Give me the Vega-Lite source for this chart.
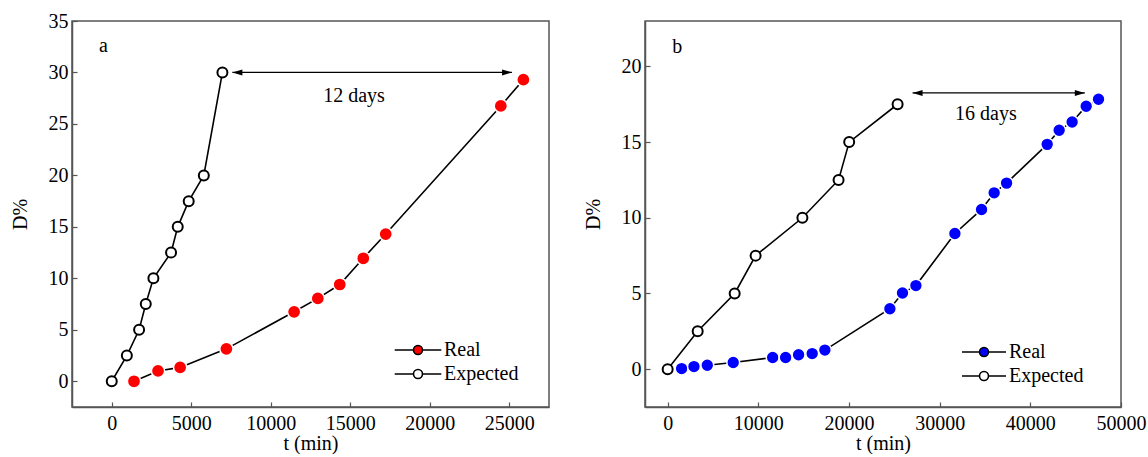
{
  "$schema": "https://vega.github.io/schema/vega-lite/v6.json",
  "padding": {"left": 9, "top": 10, "right": 0, "bottom": 0},
  "background": "white",
  "config": {
    "font": "Liberation Serif",
    "view": {"stroke": "#555", "strokeWidth": 1.5},
    "axis": {
      "grid": false,
      "domainColor": "#555",
      "domainWidth": 1.5,
      "tickColor": "#555",
      "tickWidth": 1.2,
      "tickSize": -5,
      "labelFlush": false,
      "labelOverlap": false,
      "labelFont": "Liberation Serif",
      "labelFontSize": 20,
      "labelColor": "black",
      "titleFont": "Liberation Serif",
      "titleFontSize": 20,
      "titleFontWeight": "normal",
      "titleColor": "black"
    },
    "legend": {
      "labelFont": "Liberation Serif",
      "labelFontSize": 20,
      "labelColor": "black"
    }
  },
  "datasets": {
    "a": [
      {"t": 0, "D": 0, "series": "Expected"},
      {"t": 950, "D": 2.5, "series": "Expected"},
      {"t": 1720, "D": 5.0, "series": "Expected"},
      {"t": 2140, "D": 7.5, "series": "Expected"},
      {"t": 2620, "D": 10.0, "series": "Expected"},
      {"t": 3730, "D": 12.5, "series": "Expected"},
      {"t": 4150, "D": 15.0, "series": "Expected"},
      {"t": 4840, "D": 17.5, "series": "Expected"},
      {"t": 5790, "D": 20.0, "series": "Expected"},
      {"t": 6960, "D": 30.0, "series": "Expected"},
      {"t": 1400, "D": 0.0, "series": "Real"},
      {"t": 2910, "D": 1.0, "series": "Real"},
      {"t": 4300, "D": 1.35, "series": "Real"},
      {"t": 7210, "D": 3.15, "series": "Real"},
      {"t": 11470, "D": 6.75, "series": "Real"},
      {"t": 12960, "D": 8.05, "series": "Real"},
      {"t": 14340, "D": 9.4, "series": "Real"},
      {"t": 15820, "D": 11.95, "series": "Real"},
      {"t": 17230, "D": 14.3, "series": "Real"},
      {"t": 24470, "D": 26.75, "series": "Real"},
      {"t": 25890, "D": 29.3, "series": "Real"}
    ],
    "b": [
      {"t": 0, "D": 0, "series": "Expected"},
      {"t": 3310, "D": 2.5, "series": "Expected"},
      {"t": 7390, "D": 5.0, "series": "Expected"},
      {"t": 9700, "D": 7.5, "series": "Expected"},
      {"t": 14860, "D": 10.0, "series": "Expected"},
      {"t": 18850, "D": 12.5, "series": "Expected"},
      {"t": 20020, "D": 15.0, "series": "Expected"},
      {"t": 25360, "D": 17.5, "series": "Expected"},
      {"t": 1540, "D": 0.04, "series": "Real"},
      {"t": 2900, "D": 0.17, "series": "Real"},
      {"t": 4370, "D": 0.26, "series": "Real"},
      {"t": 7230, "D": 0.44, "series": "Real"},
      {"t": 11580, "D": 0.77, "series": "Real"},
      {"t": 13010, "D": 0.77, "series": "Real"},
      {"t": 14440, "D": 0.95, "series": "Real"},
      {"t": 15940, "D": 1.03, "series": "Real"},
      {"t": 17340, "D": 1.26, "series": "Real"},
      {"t": 24510, "D": 3.99, "series": "Real"},
      {"t": 25900, "D": 5.03, "series": "Real"},
      {"t": 27380, "D": 5.52, "series": "Real"},
      {"t": 31680, "D": 8.96, "series": "Real"},
      {"t": 34620, "D": 10.55, "series": "Real"},
      {"t": 36010, "D": 11.65, "series": "Real"},
      {"t": 37380, "D": 12.29, "series": "Real"},
      {"t": 41860, "D": 14.85, "series": "Real"},
      {"t": 43180, "D": 15.78, "series": "Real"},
      {"t": 44610, "D": 16.33, "series": "Real"},
      {"t": 46160, "D": 17.37, "series": "Real"},
      {"t": 47520, "D": 17.83, "series": "Real"}
    ],
    "arrowA": [{"t": 7585, "t2": 25176, "D": 30}],
    "headsA": [{"t": 7585, "D": 30, "dir": "left"}, {"t": 25176, "D": 30, "dir": "right"}],
    "textA": [{"t": 15240, "D": 27.7, "label": "12 days"}, {"t": -530, "D": 32.6, "label": "a"}],
    "arrowB": [{"t": 27012, "t2": 46009, "D": 18.25}],
    "headsB": [{"t": 27012, "D": 18.25, "dir": "left"}, {"t": 46009, "D": 18.25, "dir": "right"}],
    "textB": [{"t": 35094, "D": 16.84, "label": "16 days"}, {"t": 1060, "D": 21.3, "label": "b"}]
  },
  "hconcat": [
    {
      "width": 477,
      "height": 386,
      "encoding": {
        "x": {"field": "t", "type": "quantitative",
              "scale": {"domain": [-2500, 27500], "nice": false, "zero": false},
              "axis": {"values": [0, 5000, 10000, 15000, 20000, 25000], "format": "d", "title": "t (min)", "labelPadding": 11, "titlePadding": 0}},
        "y": {"field": "D", "type": "quantitative",
              "scale": {"domain": [-2.5, 35], "nice": false, "zero": false},
              "axis": {"values": [0, 5, 10, 15, 20, 25, 30, 35], "title": "D%", "labelPadding": 9, "titlePadding": 18}}
      },
      "layer": [
        {"data": {"name": "a"}, "mark": {"type": "line", "color": "black", "strokeWidth": 1.6},
         "encoding": {"detail": {"field": "series"}}},
        {"data": {"name": "a"},
         "mark": {"type": "point", "shape": "circle", "filled": true, "opacity": 1},
         "encoding": {
           "fill": {"field": "series", "type": "nominal",
                    "scale": {"domain": ["Real", "Expected"], "range": ["#ff0000", "white"]},
                    "legend": {"orient": "none", "legendX": 335, "legendY": 318, "title": null,
                               "symbolType": "M-2.33,0L-0.45,0M0.45,0L2.33,0M-0.45,0A0.45,0.45,0,1,0,0.45,0A0.45,0.45,0,1,0,-0.45,0Z",
                               "symbolSize": 400, "symbolStrokeColor": "black", "symbolStrokeWidth": 1.6,
                               "labelOffset": 15, "padding": 0, "rowPadding": 3, "labelLimit": 300,
                               "encode": {"symbols": {"update": {"stroke": {"value": "black"}, "strokeWidth": {"value": 1.6}, "opacity": {"value": 1}}}}}},
           "size": {"condition": {"test": "datum.series === 'Real'", "value": 175}, "value": 100},
           "stroke": {"condition": {"test": "datum.series === 'Real'", "value": "white"}, "value": "black"},
           "strokeWidth": {"condition": {"test": "datum.series === 'Real'", "value": 1.5}, "value": 2}
         }},
        {"data": {"name": "arrowA"}, "mark": {"type": "rule", "color": "black", "strokeWidth": 1.2},
         "encoding": {"x2": {"field": "t2"}}},
        {"data": {"name": "headsA"}, "mark": {"type": "point", "filled": true, "opacity": 1, "size": 400, "color": "black"},
         "encoding": {"shape": {"field": "dir", "type": "nominal",
                                "scale": {"domain": ["left", "right"], "range": ["M0,0L1,-0.3L1,0.3Z", "M0,0L-1,-0.3L-1,0.3Z"]},
                                "legend": null}}},
        {"data": {"name": "textA"}, "mark": {"type": "text", "fontSize": 20, "color": "black", "align": "center", "baseline": "middle"},
         "encoding": {"text": {"field": "label"}}}
      ]
    },
    {
      "width": 476,
      "height": 386,
      "encoding": {
        "x": {"field": "t", "type": "quantitative",
              "scale": {"domain": [-2500, 50000], "nice": false, "zero": false},
              "axis": {"values": [0, 10000, 20000, 30000, 40000, 50000], "format": "d", "title": "t (min)", "labelPadding": 11, "titlePadding": 0}},
        "y": {"field": "D", "type": "quantitative",
              "scale": {"domain": [-2.5, 23], "nice": false, "zero": false},
              "axis": {"values": [0, 5, 10, 15, 20], "title": "D%", "labelPadding": 9, "titlePadding": 18}}
      },
      "layer": [
        {"data": {"name": "b"}, "mark": {"type": "line", "color": "black", "strokeWidth": 1.6},
         "encoding": {"detail": {"field": "series"}}},
        {"data": {"name": "b"},
         "mark": {"type": "point", "shape": "circle", "filled": true, "opacity": 1},
         "encoding": {
           "fill": {"field": "series", "type": "nominal",
                    "scale": {"domain": ["Real", "Expected"], "range": ["#0000ff", "white"]},
                    "legend": {"orient": "none", "legendX": 328, "legendY": 320, "title": null,
                               "symbolType": "M-2.2,0L-0.45,0M0.45,0L2.2,0M-0.45,0A0.45,0.45,0,1,0,0.45,0A0.45,0.45,0,1,0,-0.45,0Z",
                               "symbolSize": 400, "symbolStrokeColor": "black", "symbolStrokeWidth": 1.6,
                               "labelOffset": 14, "padding": 0, "rowPadding": 3, "labelLimit": 300,
                               "encode": {"symbols": {"update": {"stroke": {"value": "black"}, "strokeWidth": {"value": 1.6}, "opacity": {"value": 1}}}}}},
           "size": {"condition": {"test": "datum.series === 'Real'", "value": 165}, "value": 100},
           "stroke": {"condition": {"test": "datum.series === 'Real'", "value": "white"}, "value": "black"},
           "strokeWidth": {"condition": {"test": "datum.series === 'Real'", "value": 1.5}, "value": 2}
         }},
        {"data": {"name": "arrowB"}, "mark": {"type": "rule", "color": "black", "strokeWidth": 1.2},
         "encoding": {"x2": {"field": "t2"}}},
        {"data": {"name": "headsB"}, "mark": {"type": "point", "filled": true, "opacity": 1, "size": 400, "color": "black"},
         "encoding": {"shape": {"field": "dir", "type": "nominal",
                                "scale": {"domain": ["left", "right"], "range": ["M0,0L1,-0.3L1,0.3Z", "M0,0L-1,-0.3L-1,0.3Z"]},
                                "legend": null}}},
        {"data": {"name": "textB"}, "mark": {"type": "text", "fontSize": 20, "color": "black", "align": "center", "baseline": "middle"},
         "encoding": {"text": {"field": "label"}}}
      ]
    }
  ],
  "spacing": 96,
  "bounds": "flush",
  "resolve": {"scale": {"fill": "independent", "shape": "independent"}, "legend": {"fill": "independent", "shape": "independent"}}
}
